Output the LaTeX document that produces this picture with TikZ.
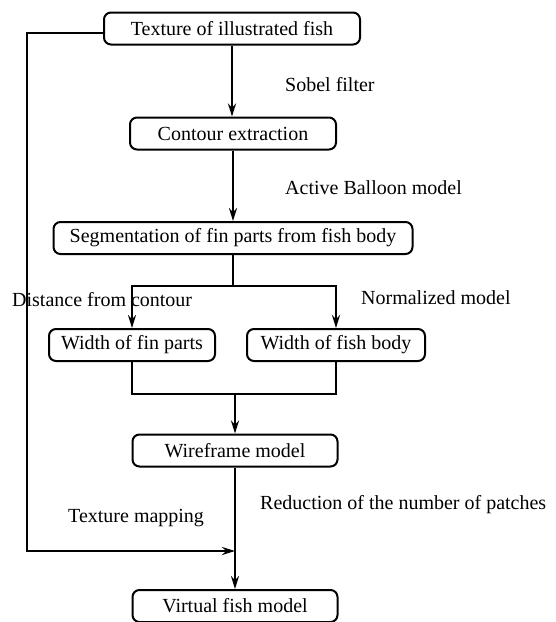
\documentclass[tikz,border=0pt]{standalone}
\usepackage{fontspec}
\setmainfont{Liberation Serif}
\usetikzlibrary{arrows.meta}
\begin{document}
\begin{tikzpicture}[x=1pt,y=-1pt,
 box/.style={draw,line width=2pt,rounded corners=7pt,minimum height=32pt,inner sep=0pt,font=\fontsize{20}{22}\selectfont},
 lbl/.style={font=\fontsize{20}{22}\selectfont,inner sep=0pt,anchor=west},
 conn/.style={line width=2.4pt},
 arr/.style={conn,-{Stealth[length=13pt,width=8pt]}}]
\useasboundingbox (0,0) rectangle (555,622);
\node[box,minimum width=256pt] (b1) at (232,28.5) {Texture of illustrated fish};
\node[box,minimum width=206pt] (b2) at (233,133.5) {Contour extraction};
\node[box,minimum width=359pt] (b3) at (233,238) {Segmentation of fin parts from fish body};
\node[box,minimum width=166pt] (b4) at (132,345) {Width of fin parts};
\node[box,minimum width=178pt] (b5) at (336,345) {Width of fish body};
\node[box,minimum width=205pt] (b6) at (235,450.5) {Wireframe model};
\node[box,minimum width=205pt] (b7) at (235,606) {Virtual fish model};
\node[lbl] (l1) at (285,85) {Sobel filter};
\node[lbl] (l2) at (285,188) {Active Balloon model};
\node[lbl] (l3) at (12,300) {Distance from contour};
\node[lbl] (l4) at (361,298) {Normalized model};
\node[lbl] (l5) at (260,505) {Reduction of the number of patches};
\node[lbl] (l6) at (68,518) {Texture mapping};
\coordinate (s) at (233,286);
\coordinate (j) at (235,394);
\coordinate (c2) at (27,551);
\coordinate (m) at (235,551);
\draw[arr] (b1.south) -- (b1.south |- b2.north);
\draw[arr] (b2.south) -- (b2.south |- b3.north);
\draw[conn] (b3.south) -- (s);
\draw[arr] (s) -| (b4.north);
\draw[arr] (s) -| (b5.north);
\draw[conn] (b4.south) |- (j);
\draw[conn] (b5.south) |- (j);
\draw[arr] (j) -- (b6.north);
\draw[arr] ([yshift=-4.5pt]b1.west) -| (c2) -- (m);
\draw[arr] (b6.south) -- (b7.north);
\end{tikzpicture}
\end{document}
